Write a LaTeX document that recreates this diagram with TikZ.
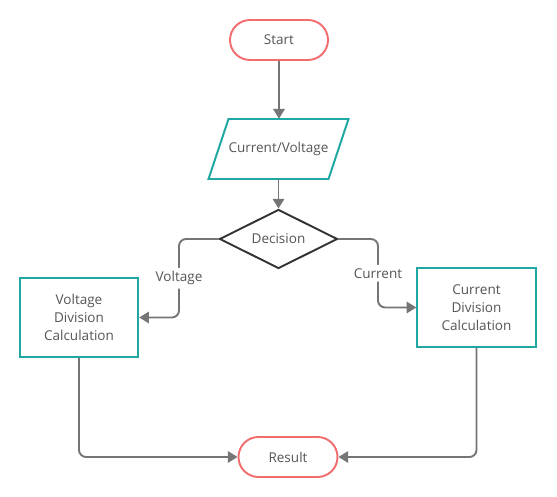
\documentclass[tikz,border=0pt]{standalone}
\usepackage{fontspec}
\setmainfont{Open Sans}
\usetikzlibrary{calc,shapes.geometric,arrows.meta}

\definecolor{termred}{HTML}{F26D6D}
\definecolor{boxteal}{HTML}{1FA8A3}
\definecolor{linegray}{HTML}{757575}
\definecolor{textgray}{HTML}{555555}

\tikzset{
  every node/.style={text=textgray,font=\fontsize{7.7}{10.2}\selectfont},
  terminal/.style={draw=termred,line width=1.1pt,rectangle,rounded corners=0.4cm,
    minimum height=0.8cm},
  iobox/.style={rectangle,minimum width=2.4cm,minimum height=1.2cm},
  decide/.style={draw=black!80,line width=1.1pt,diamond,aspect=2,
    minimum width=2.36cm,minimum height=1.18cm,inner sep=-2pt},
  process/.style={draw=boxteal,line width=1.1pt,rectangle,align=center,
    minimum width=2.37cm,minimum height=1.58cm},
  conn/.style={draw=linegray,line width=1.1pt,rounded corners=4pt,
    -{Triangle[length=5.5pt,width=6.5pt]}},
  lbl/.style={fill=white,inner sep=2pt}
}

\begin{document}
\begin{tikzpicture}

   \useasboundingbox (0,0) rectangle (11.14,-9.94);

   \node[terminal,minimum width=1.96cm] (start) at (5.58,-0.80) {Start};
   \node[iobox] (input) at (5.57,-2.98) {Current/Voltage};
   \node[decide] (dec) at (5.57,-4.78) {Decision};
   \node[process] (vdiv) at (1.58,-6.35) {Voltage\\Division\\Calculation};
   \node[process] (cdiv) at (9.53,-6.15) {Current\\Division\\Calculation};
   \node[terminal,minimum width=1.98cm] (res) at (5.76,-9.14) {Result};

   % parallelogram outline
   \draw[draw=boxteal,line width=1.1pt,line join=miter]
     ($(input.center)+(-1.0,0.6)$) -- ($(input.center)+(1.4,0.6)$)
     -- ($(input.center)+(1.0,-0.6)$) -- ($(input.center)+(-1.4,-0.6)$) -- cycle;

   % bends
   \coordinate (bl) at (3.58,-4.78);
   \coordinate (br) at (7.56,-4.78);

   \draw[conn] (start.south) -- (start.south |- input.north);
   \draw[conn] (input.south) -- (input.south |- dec.north);
   \draw[conn] (dec.west) -- (bl) |- node[lbl,pos=0.25] {Voltage} (vdiv.east);
   \draw[conn] (dec.east) -- (br) |- node[lbl,pos=0.25] {Current} (cdiv.west);
   \draw[conn] (vdiv.south) |- (res.west);
   \draw[conn] (cdiv.south) |- (res.east);

\end{tikzpicture}
\end{document}
